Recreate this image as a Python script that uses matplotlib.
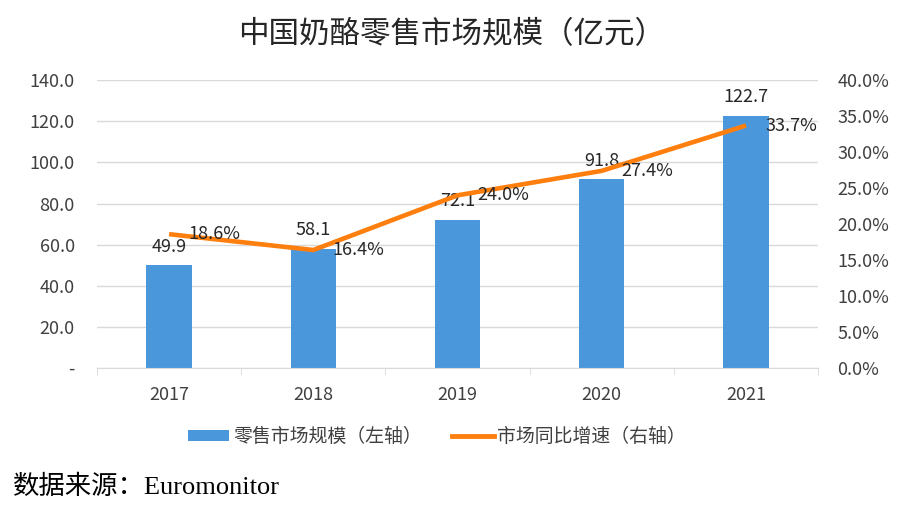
import matplotlib
matplotlib.use("Agg")
import matplotlib.pyplot as plt
import numpy as np
from matplotlib.patches import Patch
from matplotlib.lines import Line2D

plt.rcParams['font.family'] = ['Noto Sans CJK SC', 'DejaVu Sans']

years = ['2017', '2018', '2019', '2020', '2021']
market_size = [49.9, 58.1, 72.1, 91.8, 122.7]
growth = [18.6, 16.4, 24.0, 27.4, 33.7]
left_ticks = [0, 20, 40, 60, 80, 100, 120, 140]
right_ticks = [0, 5, 10, 15, 20, 25, 30, 35, 40]

title = '中国奶酪零售市场规模（亿元）'
bar_label = '零售市场规模（左轴）'
line_label = '市场同比增速（右轴）'
source = '数据来源：Euromonitor'

bar_color = '#4A98DB'
line_color = '#FF7F0E'
grid_color = '#D9D9D9'
text_color = '#404040'

fig = plt.figure(figsize=(9.03, 5.14), dpi=100)
ax = fig.add_axes([0.1074, 0.284, 0.7986, 0.560])
ax2 = ax.twinx()

x = np.arange(len(years))
ax.bar(x, market_size, width=0.315, color=bar_color, zorder=2)
ax.set_xlim(-0.5, len(years) - 0.5)
ax.set_ylim(0, 140)
ax.set_yticks(left_ticks)
ax.set_yticklabels(['-' if v == 0 else f'{v:.1f}' for v in left_ticks])
ax.grid(axis='y', color=grid_color, linewidth=1, zorder=0)
ax.set_axisbelow(True)
for s in ['left', 'right', 'top']:
    ax.spines[s].set_visible(False)
ax.spines['bottom'].set_color(grid_color)
ax.tick_params(axis='y', length=0, pad=16, labelsize=13, labelcolor=text_color)
ax.set_xticks(x)
ax.set_xticklabels(years)
ax.tick_params(axis='x', length=0, pad=13, labelsize=13, labelcolor=text_color)
ax.set_xticks(np.arange(-0.5, len(years), 1.0), minor=True)
ax.tick_params(axis='x', which='minor', length=5, color=grid_color, direction='out')

for xi, v in zip(x, market_size):
    ax.annotate(f'{v:.1f}', (xi, v), xytext=(0, 7), textcoords='offset points',
                ha='center', va='bottom', fontsize=13, color='#262626', zorder=5)

ax2.plot(x, growth, color=line_color, linewidth=3.3, zorder=3, solid_capstyle='butt')
ax2.set_ylim(0, 40)
ax2.set_yticks(right_ticks)
ax2.set_yticklabels([f'{v:.1f}%' for v in right_ticks])
ax2.tick_params(axis='y', length=0, pad=14, labelsize=13, labelcolor=text_color)
for s in ['left', 'right', 'top', 'bottom']:
    ax2.spines[s].set_visible(False)
for xi, v in zip(x, growth):
    ax2.annotate(f'{v:.1f}%', (xi, v), xytext=(14, 0), textcoords='offset points',
                 ha='left', va='center', fontsize=13, color='#262626', zorder=5)

fig.text(0.5, 0.932, title, ha='center', va='center', fontsize=22, color='#262626')

handles = [Patch(facecolor=bar_color, edgecolor='none'),
           Line2D([0], [0], color=line_color, linewidth=3.5)]
fig.legend(handles, [bar_label, line_label], loc='center', bbox_to_anchor=(0.484, 0.15),
           ncol=2, frameon=False, fontsize=13.6, handlelength=2.2, handleheight=0.5,
           columnspacing=1.6, handletextpad=0.2, labelcolor='#404040')

fig.text(0.014, 0.052, source, ha='left', va='center', fontsize=19,
         family=['Liberation Serif', 'Noto Sans CJK SC'], color='black')

fig.savefig('out.png', dpi=100)
